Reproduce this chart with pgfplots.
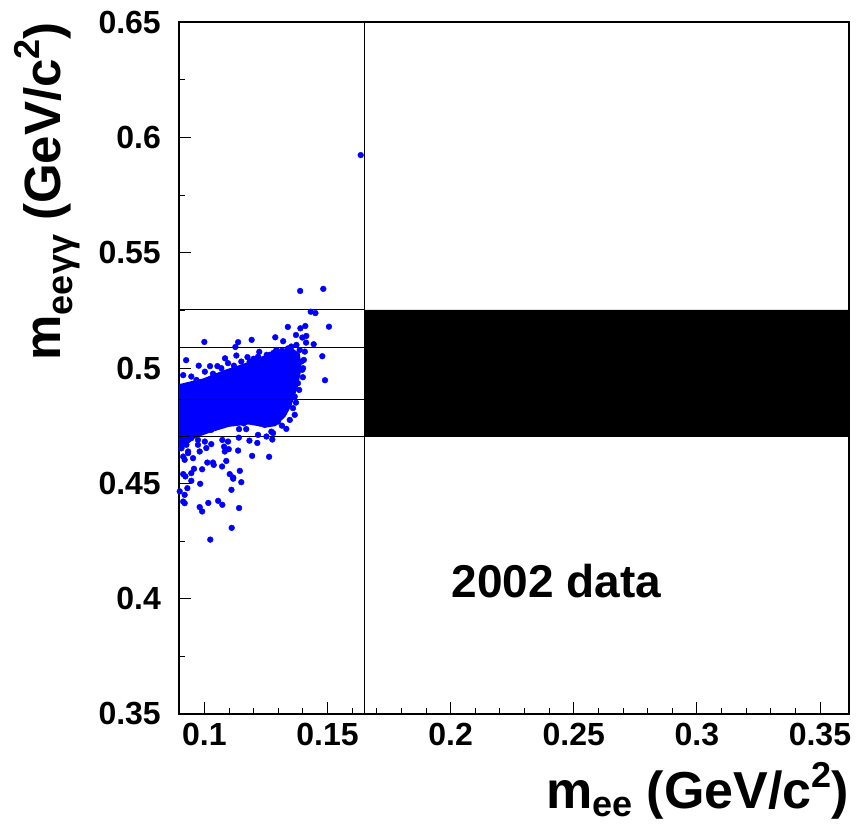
\documentclass[border=0pt]{standalone}
\usepackage{fontspec}
\setmainfont{Liberation Sans}
\usepackage{pgfplots}
\pgfplotsset{compat=1.18}
\begin{document}
\begin{tikzpicture}
\useasboundingbox (-179pt,-112pt) rectangle (678pt,714pt);
\begin{axis}[
  at={(0,0)}, anchor=south west,
  scale only axis, width=670pt, height=692pt,
  xmin=0.0897, xmax=0.3618, ymin=0.35, ymax=0.65,
  axis line style={line width=1.2pt},
  tick align=inside, xtick pos=bottom, ytick pos=left,
  xtick={0.1,0.15,0.2,0.25,0.3,0.35},
  xticklabels={0.1,0.15,0.2,0.25,0.3,0.35},
  ytick={0.35,0.4,0.45,0.5,0.55,0.6,0.65},
  yticklabels={0.35,0.4,0.45,0.5,0.55,0.6,0.65},
  minor x tick num=4, minor y tick num=1,
  major tick length=12pt, minor tick length=6pt,
  every tick/.style={line width=0.8pt, black},
  tick label style={inner sep=0pt, font=\bfseries\fontsize{32}{32}\selectfont},
  xticklabel shift=9pt, yticklabel shift=18pt,
  xlabel={\bfseries\fontsize{52}{60}\selectfont m\raisebox{-8pt}{\fontsize{36}{36}\selectfont ee} (GeV/c\raisebox{21pt}{\fontsize{36}{36}\selectfont 2})},
  xlabel style={at={(axis description cs:1,-0.1370)}, anchor=base east, inner sep=0pt},
  ylabel={\bfseries\fontsize{51}{60}\selectfont m\raisebox{-12pt}{\fontsize{36}{36}\selectfont eeγγ} (GeV/c\raisebox{21pt}{\fontsize{36}{36}\selectfont 2})},
  ylabel style={at={(axis description cs:-0.1776,1)}, anchor=base east, inner sep=0pt},
]
% dense core of the distribution
\addplot[fill=blue, draw=none, forget plot] coordinates {
(0.0897,0.4930) (0.0996,0.4955) (0.1077,0.4990) (0.1158,0.5018) (0.1226,0.5048)
(0.1294,0.5068) (0.1355,0.5088) (0.1388,0.5062) (0.1395,0.5000) (0.1380,0.4920)
(0.1355,0.4840) (0.1330,0.4790) (0.1290,0.4748) (0.1250,0.4742) (0.1180,0.4755)
(0.1100,0.4745) (0.1023,0.4720) (0.0960,0.4695) (0.0897,0.4635)
};
% individual events
\addplot[only marks, mark=*, mark size=2.9pt, blue, mark options={draw=blue, fill=blue}] table {
x y
0.1635 0.5923
0.1389 0.5334
0.1483 0.5343
0.1432 0.5244
0.1451 0.5238
0.1506 0.5179
0.1339 0.5178
0.1390 0.5172
0.1410 0.5182
0.1372 0.5143
0.1398 0.5132
0.1414 0.5139
0.1288 0.5133
0.1320 0.5116
0.1192 0.5122
0.1137 0.5112
0.1126 0.5091
0.1000 0.5113
0.1413 0.5110
0.1444 0.5103
0.1479 0.5051
0.1490 0.4947
0.0926 0.5034
0.0977 0.5010
0.0914 0.4969
0.1023 0.5008
0.1053 0.5008
0.1084 0.5042
0.1130 0.5054
0.1175 0.5047
0.1223 0.5070
0.1253 0.5057
0.1294 0.5075
0.1315 0.5075
0.1401 0.4999
0.1394 0.5028
0.0947 0.4963
0.0968 0.4948
0.1002 0.4984
0.1035 0.4975
0.1069 0.4999
0.1096 0.5021
0.1120 0.5010
0.1150 0.5028
0.1184 0.5028
0.1200 0.5040
0.1218 0.5049
0.1240 0.5035
0.1266 0.5057
0.1280 0.5065
0.1292 0.5078
0.1326 0.5071
0.1340 0.5085
0.1353 0.5093
0.1374 0.5100
0.1387 0.5078
0.1408 0.5071
0.1404 0.5035
0.1397 0.4992
0.1400 0.4960
0.1380 0.4934
0.1385 0.4905
0.1367 0.4876
0.1372 0.4850
0.1360 0.4826
0.1367 0.4797
0.1347 0.4775
0.1333 0.4736
0.0920 0.4739
0.0974 0.4753
0.1028 0.4732
0.1050 0.4745
0.1069 0.4753
0.1096 0.4768
0.1123 0.4768
0.1160 0.4760
0.1205 0.4775
0.1225 0.4760
0.1245 0.4753
0.1272 0.4724
0.1299 0.4768
0.1315 0.4750
0.0947 0.4696
0.0974 0.4688
0.1002 0.4681
0.0907 0.4652
0.0934 0.4638
0.0914 0.4616
0.1141 0.4735
0.1170 0.4735
0.1140 0.4698
0.1183 0.4685
0.1215 0.4675
0.1218 0.4710
0.1276 0.4690
0.1252 0.4703
0.1279 0.4718
0.1073 0.4688
0.1096 0.4681
0.1080 0.4659
0.1099 0.4648
0.1137 0.4642
0.1083 0.4638
0.1194 0.4619
0.1263 0.4615
0.1028 0.4670
0.1008 0.4653
0.0981 0.4638
0.0974 0.4667
0.0927 0.4667
0.0934 0.4631
0.0954 0.4609
0.0920 0.4602
0.1012 0.4590
0.1035 0.4590
0.1038 0.4580
0.1072 0.4573
0.1089 0.4597
0.1144 0.4554
0.0958 0.4563
0.0947 0.4544
0.0991 0.4561
0.0914 0.4540
0.0923 0.4530
0.1103 0.4540
0.1117 0.4525
0.1117 0.4520
0.1150 0.4505
0.0983 0.4498
0.0947 0.4511
0.0931 0.4479
0.0900 0.4465
0.0920 0.4450
0.1110 0.4472
0.0914 0.4421
0.0920 0.4414
0.1016 0.4415
0.1056 0.4424
0.1073 0.4407
0.0981 0.4397
0.0991 0.4378
0.1141 0.4393
0.1111 0.4307
0.1024 0.4256
};
% signal window (black box)
\addplot[fill=black, draw=black, line width=0.6pt] coordinates {
(0.165,0.4703) (0.3618,0.4703) (0.3618,0.5252) (0.165,0.5252) (0.165,0.4703)
};
% cut lines
\addplot[black, line width=1pt] coordinates {(0.0897,0.5252) (0.165,0.5252)};
\addplot[black, line width=1pt] coordinates {(0.0897,0.5090) (0.165,0.5090)};
\addplot[black, line width=1pt] coordinates {(0.0897,0.4862) (0.165,0.4862)};
\addplot[black, line width=1pt] coordinates {(0.0897,0.4703) (0.165,0.4703)};
\addplot[black, line width=1pt] coordinates {(0.165,0.35) (0.165,0.65)};
\node[anchor=base west, inner sep=0pt, font=\bfseries\fontsize{46}{46}\selectfont] at (axis cs:0.2004,0.4003) {2002 data};
\end{axis}
\end{tikzpicture}
\end{document}
